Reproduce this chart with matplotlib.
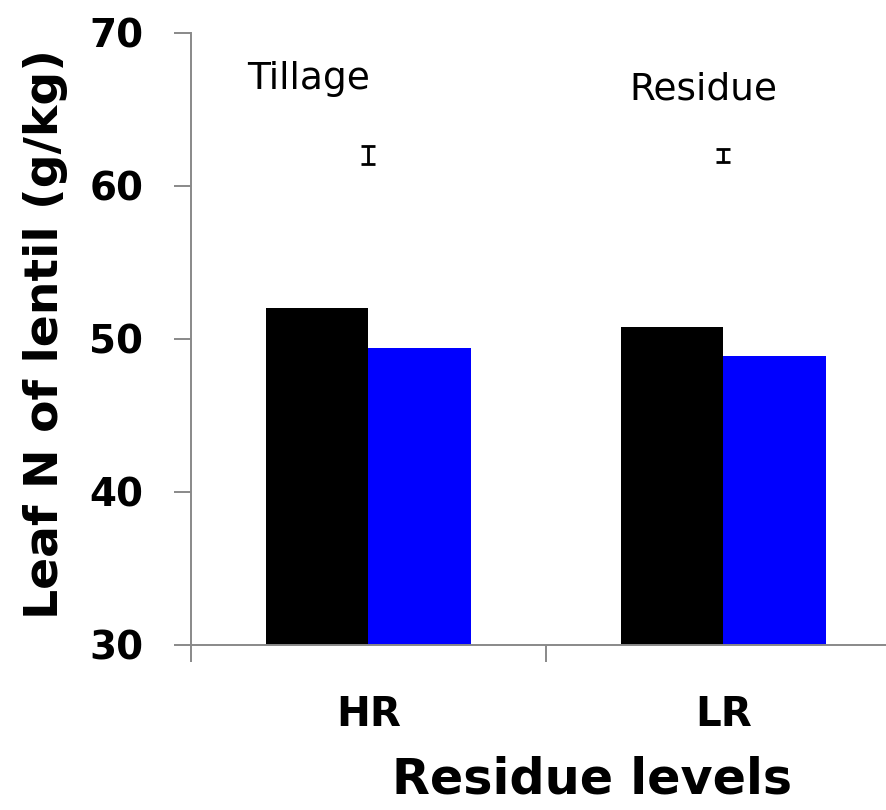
"""Leaf N of lentil under two residue levels, with LSD bars for tillage and residue."""
import matplotlib.pyplot as plt
import numpy as np

residue = ["HR", "LR"]
tillage_a = [52.0, 50.8]   # black bars
tillage_b = [49.4, 48.9]   # blue bars
lsd_labels = ["Tillage", "Residue"]
lsd_center = [62.0, 62.0]
lsd_half = [0.58, 0.44]

fig = plt.figure(figsize=(8.87, 8.10), dpi=100)
ax = fig.add_axes([191 / 887, 165.3 / 810, 710 / 887, 611.7 / 810])

x = np.arange(len(residue)) + 0.5
w = 0.288
ax.bar(x - w / 2, tillage_a, w, bottom=0, color="black", zorder=2)
ax.bar(x + w / 2, tillage_b, w, bottom=0, color="#0000ff", zorder=2)

# LSD bars sit over the shared edge of each bar pair
ax.errorbar(x, lsd_center, yerr=lsd_half, fmt="none", ecolor="black",
            elinewidth=2, capsize=4.7, capthick=2, zorder=3)
label_x = [0.33, 1.442]
label_y = [66.34, 65.62]
for lx, ly, t in zip(label_x, label_y, lsd_labels):
    ax.text(lx, ly, t, ha="center", va="baseline", fontsize=27)

ax.set_ylim(30, 70)
ax.set_xlim(0, 2)
ax.set_yticks([30, 40, 50, 60, 70])
ax.set_xticks([0, 1, 2])
ax.set_xticklabels([])
ax.set_xticks(x, minor=True)
ax.set_xticklabels(residue, minor=True, fontsize=29, fontweight="bold")
ax.tick_params(axis="x", which="minor", length=0, pad=36)
ax.tick_params(axis="x", which="major", direction="out", length=12.2,
               width=1.4, color="#898989")
ax.tick_params(axis="y", direction="out", length=12.2, width=1.4,
               color="#898989", pad=22, labelsize=28)
for lab in ax.get_yticklabels():
    lab.set_fontweight("bold")

for side in ("top", "right"):
    ax.spines[side].set_visible(False)
for side in ("left", "bottom"):
    ax.spines[side].set_color("#898989")
    ax.spines[side].set_linewidth(1.4)
    ax.spines[side].set_zorder(4)

fig.text(46 / 887, 1 - 334 / 810, "Leaf N of lentil (g/kg)", rotation=90,
         ha="center", va="center", fontsize=34, fontweight="bold")
fig.text(592 / 887, 1 - 793 / 810, "Residue levels", ha="center",
         va="baseline", fontsize=35.5, fontweight="bold")

fig.savefig("out.png", dpi=100)
